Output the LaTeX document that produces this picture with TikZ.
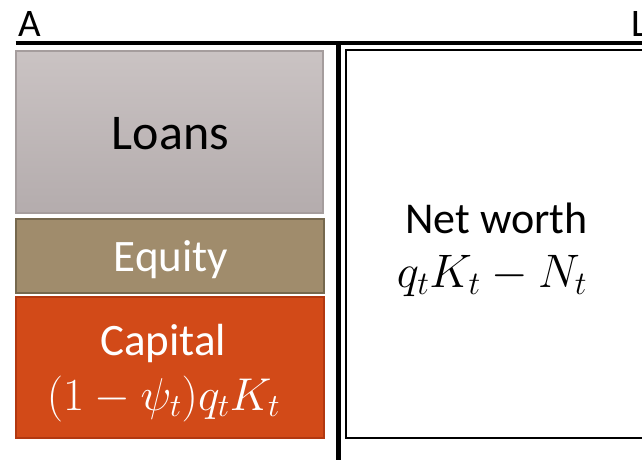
\RequirePackage{fix-cm}
\documentclass[tikz,border=0pt]{standalone}
\usepackage{fontspec}
\setmainfont{Carlito}
\definecolor{loanstop}{RGB}{202,195,195}
\definecolor{loansbot}{RGB}{180,172,173}
\definecolor{loansline}{RGB}{165,157,157}
\definecolor{equityfill}{RGB}{160,140,108}
\definecolor{equityline}{RGB}{118,104,78}
\definecolor{capfill}{RGB}{210,74,24}
\definecolor{capline}{RGB}{178,56,16}
\tikzset{
  boxnode/.style={inner sep=0pt, outer sep=0pt, line width=1.5pt},
  lbl/.style={anchor=base, inner sep=0pt, outer sep=0pt},
  rule/.style={line width=4pt, black},
}
\begin{document}
\begin{tikzpicture}[x=1pt,y=-1pt]
\useasboundingbox (0,0) rectangle (642,460);
\clip (0,0) rectangle (642,460);
% headings
\node[lbl, font=\fontsize{39}{46}\selectfont] (hA) at (30,37) {A};
\node[lbl, anchor=base west, font=\fontsize{39}{46}\selectfont] (hL) at (631,37) {L};
% rules
\draw[rule] (15.7,43.3) -- (700,43.3);
\draw[rule, line width=4.5pt] (338.5,43.3) -- (338.5,470);
% boxes
\node[boxnode, draw=loansline, top color=loanstop, bottom color=loansbot,
      minimum width=307pt, minimum height=162pt, anchor=north west] (loans) at (16,51) {};
\node[boxnode, draw=equityline, fill=equityfill, line width=2pt,
      minimum width=308pt, minimum height=74pt, anchor=north west] (equity) at (16,218.5) {};
\node[boxnode, draw=capline, fill=capfill, line width=2pt,
      minimum width=308pt, minimum height=141pt, anchor=north west] (capital) at (16,297) {};
\node[boxnode, draw=black, fill=white, line width=2pt,
      minimum width=360pt, minimum height=387.5pt, anchor=north west] (net) at (345.5,50.5) {};
% labels
\node[lbl, font=\fontsize{50}{60}\selectfont] (tloans) at (170.5,149.3) {Loans};
\node[lbl, text=white, font=\fontsize{45}{54}\selectfont] (tequity) at (171,271.7) {Equity};
\node[lbl, text=white, font=\fontsize{45}{54}\selectfont] (tcap) at (163,355) {Capital};
\node[lbl, text=white, font=\fontsize{46}{55}\selectfont] (mcap) at (163.5,410) {$(1-\psi_t)q_tK_t$};
\node[lbl, font=\fontsize{44}{52}\selectfont] (tnet) at (496.5,233.3) {Net worth};
\node[lbl, font=\fontsize{47}{56}\selectfont] (mnet) at (492,287) {$q_tK_t-N_t$};
\end{tikzpicture}
\end{document}
